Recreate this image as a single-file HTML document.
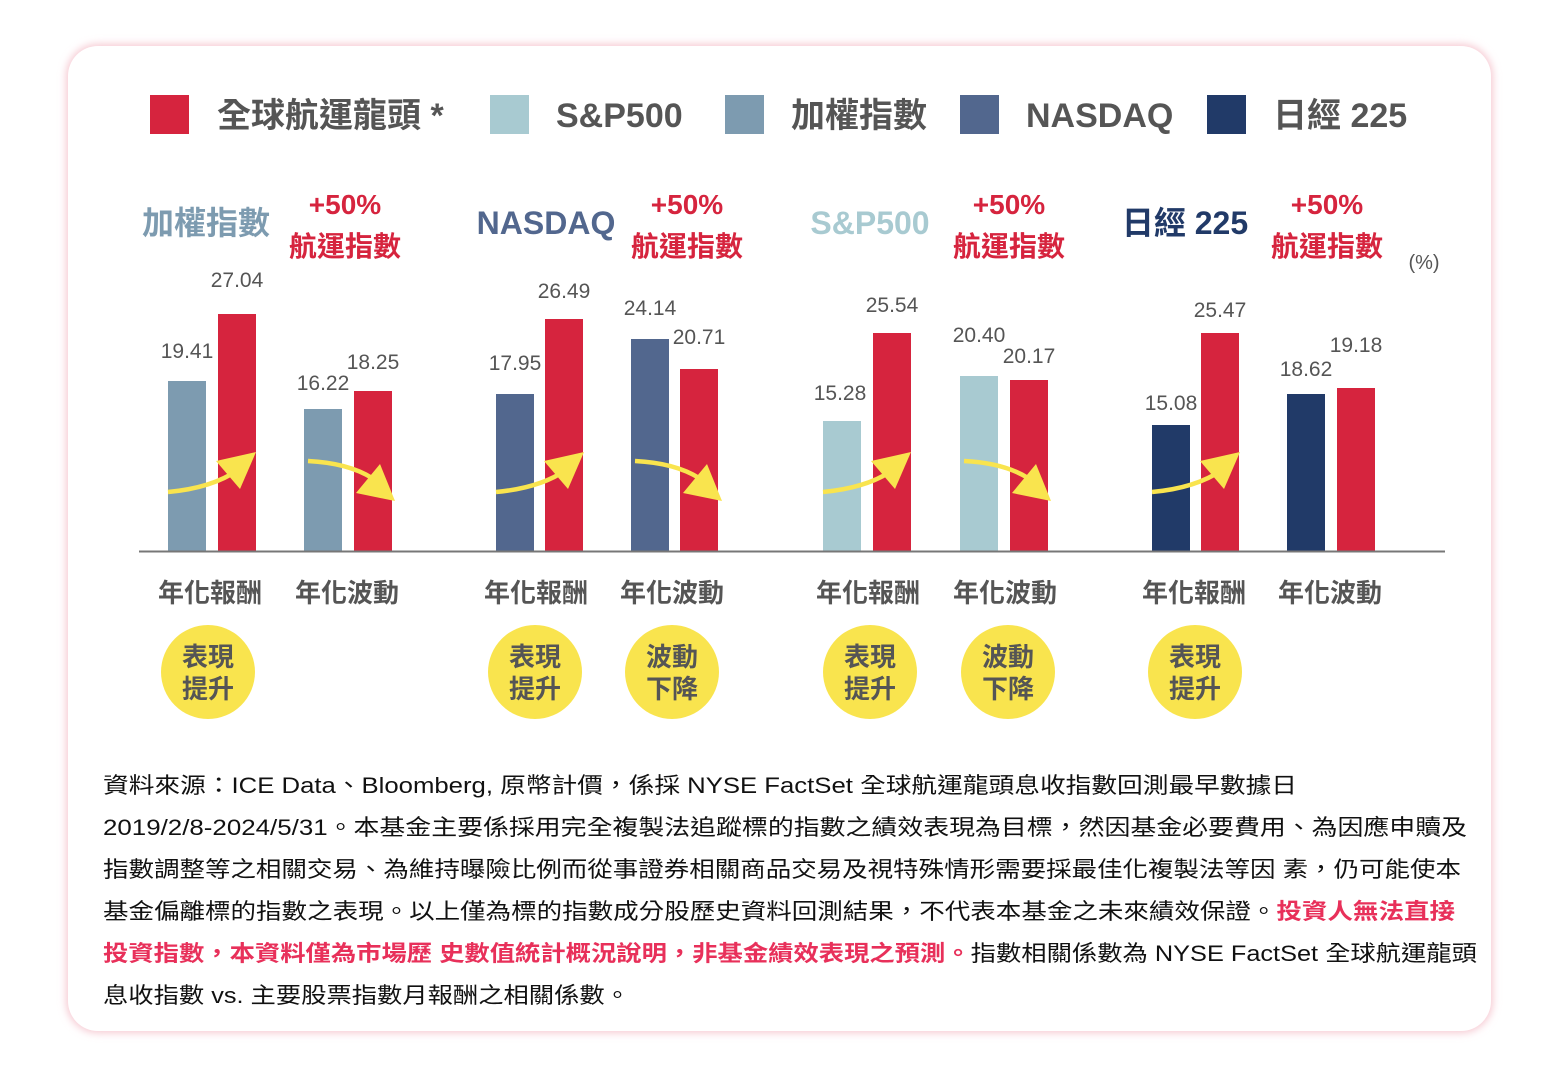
<!DOCTYPE html>
<html><head><meta charset="utf-8">
<style>
html,body{margin:0;padding:0;background:#fff;}
svg{display:block;font-family:"Liberation Sans","Noto Sans CJK TC",sans-serif;}
</style></head>
<body>
<svg width="1563" height="1073" viewBox="0 0 1563 1073" xmlns="http://www.w3.org/2000/svg">
<defs>
<filter id="sh" x="-5%" y="-5%" width="110%" height="110%"><feGaussianBlur stdDeviation="4"/></filter>
<g id="up"><path d="M168,492 Q212,488 238,470" fill="none" stroke="#f9e44e" stroke-width="4.5"/><polygon points="256,452 216,461 240,489" fill="#f9e44e"/></g>
<g id="dn"><path d="M308,461 Q348,463 372,478" fill="none" stroke="#f9e44e" stroke-width="4.5"/><polygon points="395,501 380,464 356,493" fill="#f9e44e"/></g>
</defs>
<rect x="0" y="0" width="1563" height="1073" fill="#fff"/>
<rect x="66" y="44" width="1427" height="989" rx="32" fill="#f6c9d1" filter="url(#sh)"/>
<rect x="68" y="46" width="1423" height="985" rx="30" fill="#fff"/>

<!-- legend -->
<g font-size="34" font-weight="bold" fill="#555">
<rect x="150" y="95" width="39" height="39" fill="#d6243e"/><text x="217" y="127">全球航運龍頭 *</text>
<rect x="490" y="95" width="39" height="39" fill="#a8cad1"/><text x="556" y="127">S&amp;P500</text>
<rect x="725" y="95" width="39" height="39" fill="#7d9bb0"/><text x="791" y="127">加權指數</text>
<rect x="960" y="95" width="39" height="39" fill="#52678e"/><text x="1026" y="127">NASDAQ</text>
<rect x="1207" y="95" width="39" height="39" fill="#213a68"/><text x="1273" y="127">日經 225</text>
</g>

<!-- headers -->
<g font-size="32" font-weight="bold" text-anchor="middle">
<text x="206" y="234" fill="#7d9bb0">加權指數</text>
<text x="546" y="234" fill="#52678e">NASDAQ</text>
<text x="870" y="234" fill="#a8cad1">S&amp;P500</text>
<text x="1185" y="234" fill="#213a68">日經 225</text>
</g>
<g font-size="28" font-weight="bold" text-anchor="middle" fill="#d6243e">
<text x="345" y="214">+50%</text><text x="345" y="256">航運指數</text>
<text x="687" y="214">+50%</text><text x="687" y="256">航運指數</text>
<text x="1009" y="214">+50%</text><text x="1009" y="256">航運指數</text>
<text x="1327" y="214">+50%</text><text x="1327" y="256">航運指數</text>
</g>
<text x="1424" y="269" font-size="20" fill="#555" text-anchor="middle">(%)</text>

<!-- bars -->
<rect x="168" y="381" width="38" height="170" fill="#7d9bb0"/>
<rect x="218" y="314" width="38" height="237" fill="#d6243e"/>
<rect x="304" y="409" width="38" height="142" fill="#7d9bb0"/>
<rect x="354" y="391" width="38" height="160" fill="#d6243e"/>

<rect x="496" y="394" width="38" height="157" fill="#52678e"/>
<rect x="545" y="319" width="38" height="232" fill="#d6243e"/>
<rect x="631" y="339" width="38" height="212" fill="#52678e"/>
<rect x="680" y="369" width="38" height="182" fill="#d6243e"/>

<rect x="823" y="421" width="38" height="130" fill="#a8cad1"/>
<rect x="873" y="333" width="38" height="218" fill="#d6243e"/>
<rect x="960" y="376" width="38" height="175" fill="#a8cad1"/>
<rect x="1010" y="380" width="38" height="171" fill="#d6243e"/>

<rect x="1152" y="425" width="38" height="126" fill="#213a68"/>
<rect x="1201" y="333" width="38" height="218" fill="#d6243e"/>
<rect x="1287" y="394" width="38" height="157" fill="#213a68"/>
<rect x="1337" y="388" width="38" height="163" fill="#d6243e"/>

<line x1="139" y1="551.5" x2="1445" y2="551.5" stroke="#777" stroke-width="2"/>

<!-- arrows -->
<use href="#up"/><use href="#up" transform="translate(328,0)"/><use href="#up" transform="translate(655,0)"/><use href="#up" transform="translate(984,0)"/>
<use href="#dn"/><use href="#dn" transform="translate(327,0)"/><use href="#dn" transform="translate(656,0)"/>

<!-- values -->
<g font-size="21" fill="#555" text-anchor="middle">
<text x="187" y="358">19.41</text><text x="237" y="287">27.04</text><text x="323" y="390">16.22</text><text x="373" y="369">18.25</text>
<text x="515" y="370">17.95</text><text x="564" y="298">26.49</text><text x="650" y="315">24.14</text><text x="699" y="344">20.71</text>
<text x="840" y="400">15.28</text><text x="892" y="312">25.54</text><text x="979" y="342">20.40</text><text x="1029" y="363">20.17</text>
<text x="1171" y="410">15.08</text><text x="1220" y="317">25.47</text><text x="1306" y="376">18.62</text><text x="1356" y="352">19.18</text>
</g>

<!-- categories -->
<g font-size="26" font-weight="bold" fill="#555" text-anchor="middle">
<text x="210" y="602">年化報酬</text><text x="347" y="602">年化波動</text>
<text x="536" y="602">年化報酬</text><text x="672" y="602">年化波動</text>
<text x="868" y="602">年化報酬</text><text x="1005" y="602">年化波動</text>
<text x="1194" y="602">年化報酬</text><text x="1330" y="602">年化波動</text>
</g>

<!-- circles -->
<g fill="#f9e44e">
<circle cx="208" cy="672" r="47"/><circle cx="535" cy="672" r="47"/><circle cx="672" cy="672" r="47"/>
<circle cx="870" cy="672" r="47"/><circle cx="1008" cy="672" r="47"/><circle cx="1195" cy="672" r="47"/>
</g>
<g font-size="26" font-weight="bold" fill="#555" text-anchor="middle">
<text x="208" y="666">表現</text><text x="208" y="698">提升</text>
<text x="535" y="666">表現</text><text x="535" y="698">提升</text>
<text x="672" y="666">波動</text><text x="672" y="698">下降</text>
<text x="870" y="666">表現</text><text x="870" y="698">提升</text>
<text x="1008" y="666">波動</text><text x="1008" y="698">下降</text>
<text x="1195" y="666">表現</text><text x="1195" y="698">提升</text>
</g>

<!-- footnote -->
<g font-size="22" fill="#111">
<text x="103" y="793" textLength="1194" lengthAdjust="spacingAndGlyphs">資料來源：ICE Data、Bloomberg, 原幣計價，係採 NYSE FactSet 全球航運龍頭息收指數回測最早數據日</text>
<text x="103" y="835" textLength="1364" lengthAdjust="spacingAndGlyphs">2019/2/8-2024/5/31。本基金主要係採用完全複製法追蹤標的指數之績效表現為目標，然因基金必要費用、為因應申贖及</text>
<text x="103" y="877" textLength="1358" lengthAdjust="spacingAndGlyphs">指數調整等之相關交易、為維持曝險比例而從事證券相關商品交易及視特殊情形需要採最佳化複製法等因 素，仍可能使本</text>
<text x="103" y="919" textLength="1352" lengthAdjust="spacingAndGlyphs">基金偏離標的指數之表現。以上僅為標的指數成分股歷史資料回測結果，不代表本基金之未來績效保證。<tspan fill="#e8305a" font-weight="bold">投資人無法直接</tspan></text>
<text x="103" y="961" textLength="1374" lengthAdjust="spacingAndGlyphs"><tspan fill="#e8305a" font-weight="bold">投資指數，本資料僅為市場歷 史數值統計概況說明，非基金績效表現之預測。</tspan>指數相關係數為 NYSE FactSet 全球航運龍頭</text>
<text x="103" y="1003" textLength="527" lengthAdjust="spacingAndGlyphs">息收指數 vs. 主要股票指數月報酬之相關係數。</text>
</g>
</svg>
</body></html>
